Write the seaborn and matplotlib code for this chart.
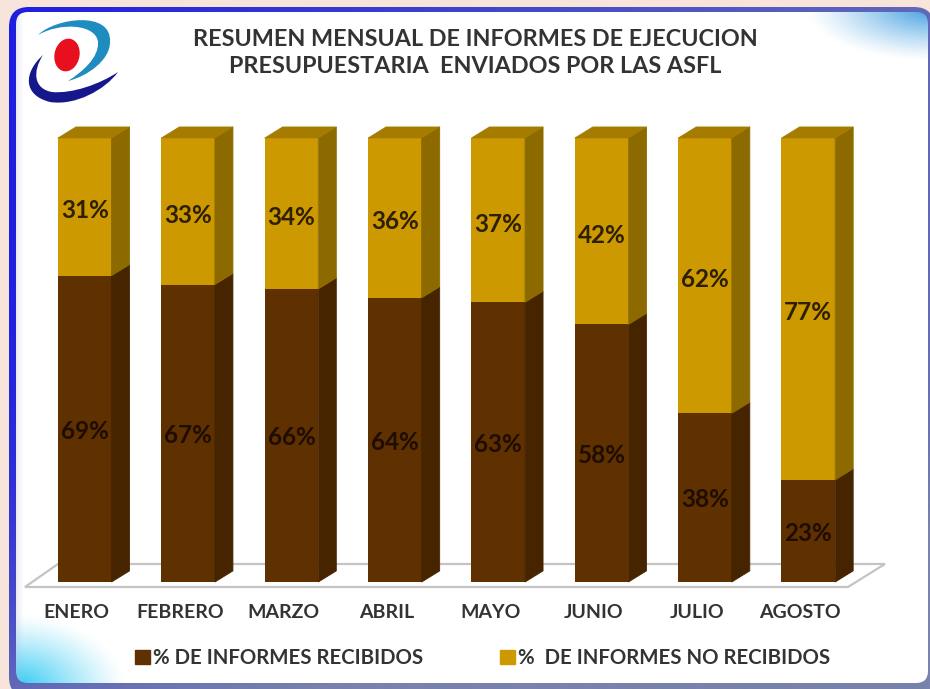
import numpy as np
import pandas as pd
import seaborn as sns
import matplotlib
matplotlib.use("Agg")
import matplotlib.pyplot as plt
from matplotlib.patches import FancyBboxPatch, Ellipse, PathPatch, Polygon, Patch
from matplotlib.path import Path
from matplotlib.transforms import ScaledTranslation

meses = ["ENERO", "FEBRERO", "MARZO", "ABRIL", "MAYO", "JUNIO", "JULIO", "AGOSTO"]
recibidos = [69, 67, 66, 64, 63, 58, 38, 23]
no_recibidos = [31, 33, 34, 36, 37, 42, 62, 77]
titulo = "RESUMEN MENSUAL DE INFORMES DE EJECUCION\nPRESUPUESTARIA  ENVIADOS POR LAS ASFL"
nombre_rec = "% DE INFORMES RECIBIDOS"
nombre_no = "%  DE INFORMES NO RECIBIDOS"

CAFE, CAFE_LADO = "#5f3000", "#472400"
ORO, ORO_LADO, ORO_TAPA = "#cc9900", "#8c6a00", "#a67c00"
TEXTO = "#333333"

sns.set_theme(style="white")
plt.rcParams["font.family"] = ["Lato", "DejaVu Sans"]

df = pd.DataFrame({"mes": meses, "rec": recibidos, "no": no_recibidos})
df["total"] = df["rec"] + df["no"]

W, H = 930, 689
fig = plt.figure(figsize=(W / 100, H / 100), dpi=100, facecolor="#f7e4da")

# fondo en pixeles
bg = fig.add_axes([0, 0, 1, 1], zorder=0)
bg.set_xlim(0, W)
bg.set_ylim(H, 0)
bg.axis("off")

# marco azul con degradado
yy, xx = np.mgrid[0:H, 0:W]
u, v = xx / W, yy / H
azul = np.array([30, 30, 225]) / 255
gris = np.array([120, 130, 170]) / 255
t = np.clip(0.75 * u + 0.75 * v ** 4, 0, 1)[..., None]
marco_img = azul * (1 - t) + gris * t
marco = FancyBboxPatch((9, 7), 925, 690, boxstyle="round,pad=0,rounding_size=20",
                       fc="none", ec="none")
bg.add_patch(marco)
im = bg.imshow(marco_img, extent=(0, W, H, 0), zorder=1, aspect="auto")
im.set_clip_path(marco)

# panel blanco con esquinas celestes
panel_img = np.ones((H, W, 3))
d1 = np.hypot((xx - 930) / 125, (yy - 8) / 52)
d2 = np.hypot((xx - 15) / 110, (yy - 689) / 75)
a1 = np.clip(1 - d1, 0, 1)[..., None] ** 1.2
a2 = np.clip(1 - d2, 0, 1)[..., None] ** 1.2
panel_img = panel_img * (1 - a1) + np.array([0.25, 0.62, 0.88]) * a1
panel_img = panel_img * (1 - a2) + np.array([0.15, 0.78, 0.95]) * a2
a3 = (np.clip(1 - (xx - 16) / 7, 0, 1) * 0.25)[..., None]
panel_img = panel_img * (1 - a3) + np.array([0.7, 0.7, 0.9]) * a3
panel = FancyBboxPatch((16, 12), 912, 671, boxstyle="round,pad=0,rounding_size=12",
                       fc="none", ec="none")
bg.add_patch(panel)
im2 = bg.imshow(panel_img, extent=(0, W, H, 0), zorder=2, aspect="auto")
im2.set_clip_path(panel)
bg.set_xlim(0, W)
bg.set_ylim(H, 0)

# logo
C4 = Path.CURVE4
arco1 = [(38, 35), (55, 18), (112, 10), (110, 42), (110, 60), (88, 76), (68, 81),
         (82, 72), (99, 58), (98, 42), (96, 24), (60, 22), (38, 35)]
arco2 = [(43, 55), (24, 72), (22, 95), (50, 102), (75, 106), (105, 90), (118, 72),
         (100, 84), (72, 94), (52, 92), (34, 89), (32, 72), (43, 55)]
for pts, col in [(arco1, "#1f8cbf"), (arco2, "#17178c")]:
    bg.add_patch(PathPatch(Path(pts, [Path.MOVETO] + [C4] * 12), fc=col, ec="none", zorder=3))
bg.add_patch(Ellipse((67, 55), 25, 33, angle=12, fc="#e8101f", ec="none", zorder=3))

# piso del grafico
bg.add_patch(Polygon([(25, 587), (58, 564), (885, 564), (848, 587)], closed=True,
                     fc="white", ec="#c4c4c4", lw=1.6, zorder=3))

# barras
ax = fig.add_axes([33 / W, (H - 582) / H, 827 / W, 444 / H], zorder=1)
ax.patch.set_alpha(0)
ancho = 0.52
sns.barplot(data=df, x="mes", y="total", color=ORO, saturation=1, width=ancho, ax=ax,
            edgecolor="none", linewidth=0)
sns.barplot(data=df, x="mes", y="rec", color=CAFE, saturation=1, width=ancho, ax=ax,
            edgecolor="none", linewidth=0)
ax.set_xlim(-0.5, 7.5)
ax.set_ylim(0, 100)
ax.set_xlabel("")
ax.set_ylabel("")
ax.set_yticks([])
sns.despine(ax=ax, left=True, bottom=True)
ax.tick_params(axis="x", length=0, pad=16)
corrimiento = ScaledTranslation(-8 / 100, 0, fig.dpi_scale_trans)
for lab in ax.get_xticklabels():
    lab.set_fontsize(14)
    lab.set_fontweight("bold")
    lab.set_color(TEXTO)
    lab.set_transform(lab.get_transform() + corrimiento)

# caras 3D
dx, dy = 0.174, 2.5
for i, (r, n) in enumerate(zip(recibidos, no_recibidos)):
    x1 = i + ancho / 2
    x0 = i - ancho / 2
    tope = r + n
    ax.add_patch(Polygon([(x1, 0), (x1 + dx, dy), (x1 + dx, r + dy), (x1, r)],
                         fc=CAFE_LADO, ec=CAFE_LADO, lw=0.6, clip_on=False))
    ax.add_patch(Polygon([(x1, r), (x1 + dx, r + dy), (x1 + dx, tope + dy), (x1, tope)],
                         fc=ORO_LADO, ec=ORO_LADO, lw=0.6, clip_on=False))
    ax.add_patch(Polygon([(x0, tope), (x0 + dx, tope + dy), (x1 + dx, tope + dy), (x1, tope)],
                         fc=ORO_TAPA, ec=ORO_TAPA, lw=0.4, clip_on=False))
    ax.text(i, r / 2 - 0.5, f"{r}%", ha="center", va="center", fontsize=17.5,
            fontweight="bold", color="#1e0d00", zorder=5)
    ax.text(i, r + n / 2 - 0.9, f"{n}%", ha="center", va="center", fontsize=17.5,
            fontweight="bold", color="#2e1f00", zorder=5)

ax.set_title(titulo, fontsize=16.8, fontweight="bold", color=TEXTO, x=(475 - 33) / 827,
             y=1.0, pad=47, linespacing=1.32)

ax.legend(handles=[Patch(color=CAFE, label=nombre_rec), Patch(color=ORO, label=nombre_no)],
          ncol=2, frameon=False, loc="center left", bbox_to_anchor=(117 / W, (H - 658) / H),
          bbox_transform=fig.transFigure, handlelength=0.7, handleheight=0.7, handletextpad=0.15,
          columnspacing=3.8, prop={"size": 14.7, "weight": "bold"}, labelcolor=TEXTO)

fig.savefig("out.png", dpi=100, facecolor=fig.get_facecolor())
